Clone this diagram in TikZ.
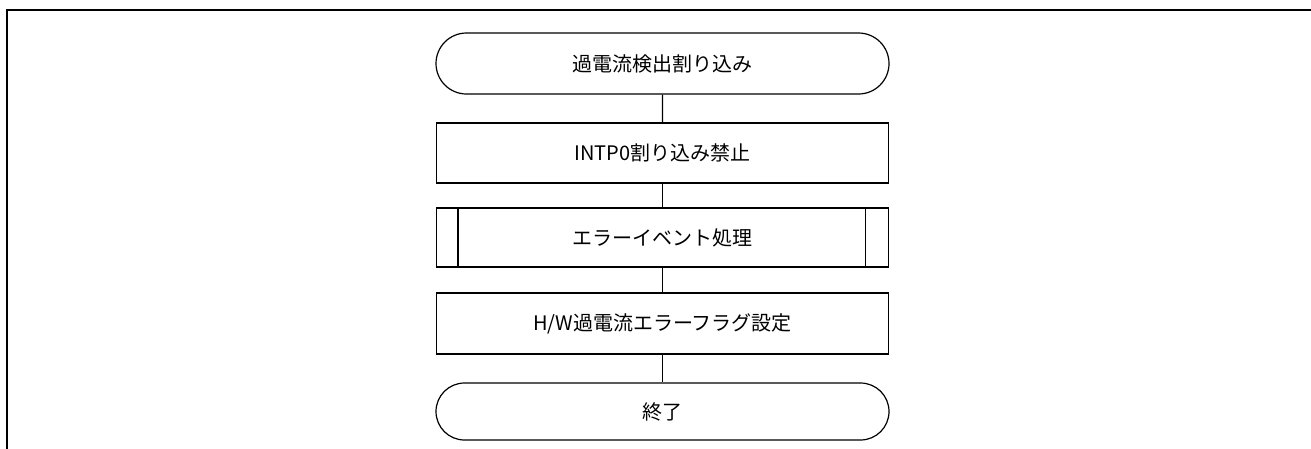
\documentclass[tikz,border=0pt]{standalone}
\usepackage{fontspec}
\setmainfont{Noto Sans CJK JP}
\usetikzlibrary{shapes.misc}
\begin{document}
\begin{tikzpicture}[x=1pt,y=-1pt,
  base/.style={draw, line width=1.2pt, font=\fontsize{20}{22}\selectfont, inner sep=0pt},
  term/.style={base, rounded rectangle, minimum width=453pt},
  procbox/.style={base, rectangle, minimum width=452pt, minimum height=60pt},
  conn/.style={line width=1.2pt}]
\useasboundingbox (0,0) rectangle (1311,448);
\draw[line width=2pt] (7,449) -- (7,10) -- (1312,10);
\node[term, minimum height=61pt] (s) at (662.5,63.5) {過電流検出割り込み};
\node[procbox] (a) at (662.5,153) {INTP0割り込み禁止};
\node[procbox, minimum height=59pt] (p) at (662.5,237.5) {エラーイベント処理};
\draw[conn] ([xshift=22pt]p.north west) -- ([xshift=22pt]p.south west);
\draw[conn] ([xshift=-24pt]p.north east) -- ([xshift=-24pt]p.south east);
\node[procbox, minimum height=61pt] (b) at (662.5,323.5) {H/W過電流エラーフラグ設定};
\node[term, minimum height=57pt] (e) at (662.5,411.5) {終了};
\draw[conn] (s) -- (a);
\draw[conn] (a) -- (p);
\draw[conn] (p) -- (b);
\draw[conn] (b) -- (e);
\end{tikzpicture}
\end{document}
